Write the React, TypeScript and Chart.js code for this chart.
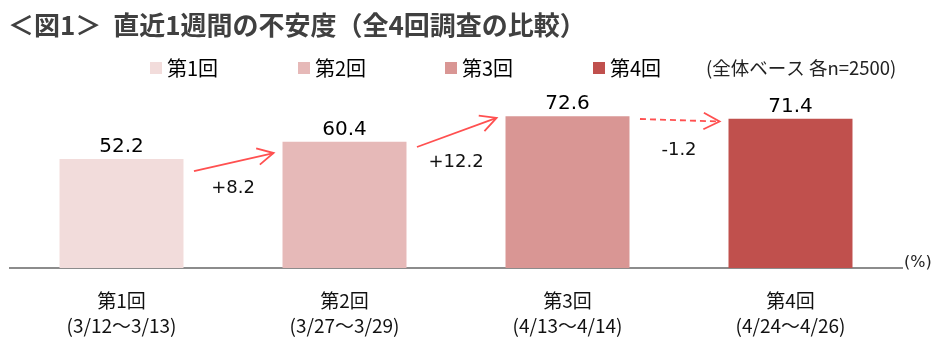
import React, { useEffect, useRef } from "react";
import { Chart, registerables } from "chart.js";

Chart.register(...registerables);

const rounds = ["第1回", "第2回", "第3回", "第4回"];
const periods = ["(3/12～3/13)", "(3/27～3/29)", "(4/13～4/14)", "(4/24～4/26)"];
const values = [52.2, 60.4, 72.6, 71.4];
const barColors = ["#F2DCDB", "#E6B9B8", "#D99694", "#C0504D"];
// arrow annotation anchors (in data units of the y scale)
const arrowStartY = [46.4, 57.9, 71.3];
const arrowEndY = [55.0, 71.8, 70.1];
const changeLabelY = [38.3, 50.7, 56.5];

const titleText = "＜図1＞  直近1週間の不安度（全4回調査の比較）";
const noteText = "(全体ベース 各n=2500)";
const unitText = "(%)";

const JP = '"Noto Sans CJK JP", "Noto Sans", sans-serif';
const NUM = '"DejaVu Sans", Verdana, sans-serif';

function drawArrow(ctx: CanvasRenderingContext2D, x1: number, y1: number, x2: number, y2: number, dashed: boolean) {
  ctx.save();
  ctx.strokeStyle = "#FF5050";
  ctx.lineWidth = 1.8;
  ctx.lineCap = "butt";
  if (dashed) ctx.setLineDash([6, 4]);
  ctx.beginPath();
  ctx.moveTo(x1, y1);
  ctx.lineTo(x2, y2);
  ctx.stroke();
  ctx.setLineDash([]);
  const ang = Math.atan2(y2 - y1, x2 - x1);
  const len = 18;
  const spread = 0.48;
  ctx.beginPath();
  ctx.moveTo(x2 - len * Math.cos(ang - spread), y2 - len * Math.sin(ang - spread));
  ctx.lineTo(x2, y2);
  ctx.lineTo(x2 - len * Math.cos(ang + spread), y2 - len * Math.sin(ang + spread));
  ctx.stroke();
  ctx.restore();
}

const annotPlugin = {
  id: "annot",
  afterDraw(chart: any) {
    const ctx: CanvasRenderingContext2D = chart.ctx;
    const xs = chart.scales.x;
    const ys = chart.scales.y;
    const meta = chart.getDatasetMeta(0);
    const catW = xs.getPixelForValue(1) - xs.getPixelForValue(0);

    ctx.save();
    // title
    ctx.fillStyle = "#404040";
    ctx.font = `bold 26px ${JP}`;
    ctx.textAlign = "left";
    ctx.textBaseline = "middle";
    ctx.fillText(titleText, 8, 25);

    // legend
    const legendX = [150, 298, 445, 593];
    rounds.forEach((r, i) => {
      ctx.fillStyle = barColors[i];
      ctx.fillRect(legendX[i], 62, 12, 12);
      ctx.fillStyle = "#000";
      ctx.font = `20px ${JP}`;
      ctx.textAlign = "left";
      ctx.textBaseline = "middle";
      ctx.fillText(r, legendX[i] + 17, 68);
    });
    ctx.font = `18.5px ${JP}`;
    ctx.fillStyle = "#222";
    ctx.fillText(noteText, 706, 68);

    // unit
    ctx.font = `16px ${NUM}`;
    ctx.fillStyle = "#222";
    ctx.fillText(unitText, 904, 263);

    // value labels
    meta.data.forEach((bar: any, i: number) => {
      ctx.fillStyle = "#000";
      ctx.font = `20px ${NUM}`;
      ctx.textAlign = "center";
      ctx.textBaseline = "alphabetic";
      ctx.fillText(values[i].toFixed(1), bar.x, bar.y - 7);
    });

    // arrows & change labels
    for (let i = 0; i < values.length - 1; i++) {
      const diff = values[i + 1] - values[i];
      const xa = xs.getPixelForValue(i) + catW * 0.325;
      const xb = xs.getPixelForValue(i + 1) - catW * 0.318;
      drawArrow(ctx, xa, ys.getPixelForValue(arrowStartY[i]), xb, ys.getPixelForValue(arrowEndY[i]), diff < 0);
      const label = (diff > 0 ? "+" : "") + diff.toFixed(1);
      ctx.fillStyle = "#111";
      ctx.font = `18px ${NUM}`;
      ctx.textAlign = "center";
      ctx.textBaseline = "middle";
      ctx.fillText(label, (xs.getPixelForValue(i) + xs.getPixelForValue(i + 1)) / 2, ys.getPixelForValue(changeLabelY[i]));
    }
    ctx.restore();
  },
};

export default function App() {
  const ref = useRef<HTMLCanvasElement>(null);
  useEffect(() => {
    if (!ref.current) return;
    const chart = new Chart(ref.current, {
      type: "bar",
      data: {
        labels: rounds.map((r, i) => [r, periods[i]]),
        datasets: [
          {
            data: values,
            backgroundColor: barColors,
            borderWidth: 0,
            categoryPercentage: 1,
            barPercentage: 0.556,
          },
        ],
      },
      options: {
        animation: false,
        responsive: false,
        devicePixelRatio: 1,
        layout: { padding: { top: 59, left: 10, right: 38, bottom: 0 } },
        plugins: { legend: { display: false }, title: { display: false }, tooltip: { enabled: false } },
        scales: {
          x: {
            grid: { display: false, drawTicks: false },
            border: { display: true, color: "#8C8C8C", width: 2 },
            ticks: {
              color: "#111",
              font: { family: JP, size: 19, lineHeight: 1.32 },
              padding: 20,
              maxRotation: 0,
              autoSkip: false,
            },
            afterFit: (scale: any) => {
              scale.height = 86;
            },
          },
          y: { display: false, min: 0, max: 100 },
        },
      },
      plugins: [annotPlugin],
    });
    return () => chart.destroy();
  }, []);
  return (
    <div style={{ position: "fixed", left: 0, top: 0, width: 940, height: 354, background: "#fff" }}>
      <canvas ref={ref} width={940} height={354} style={{ width: 940, height: 354 }} />
    </div>
  );
}
